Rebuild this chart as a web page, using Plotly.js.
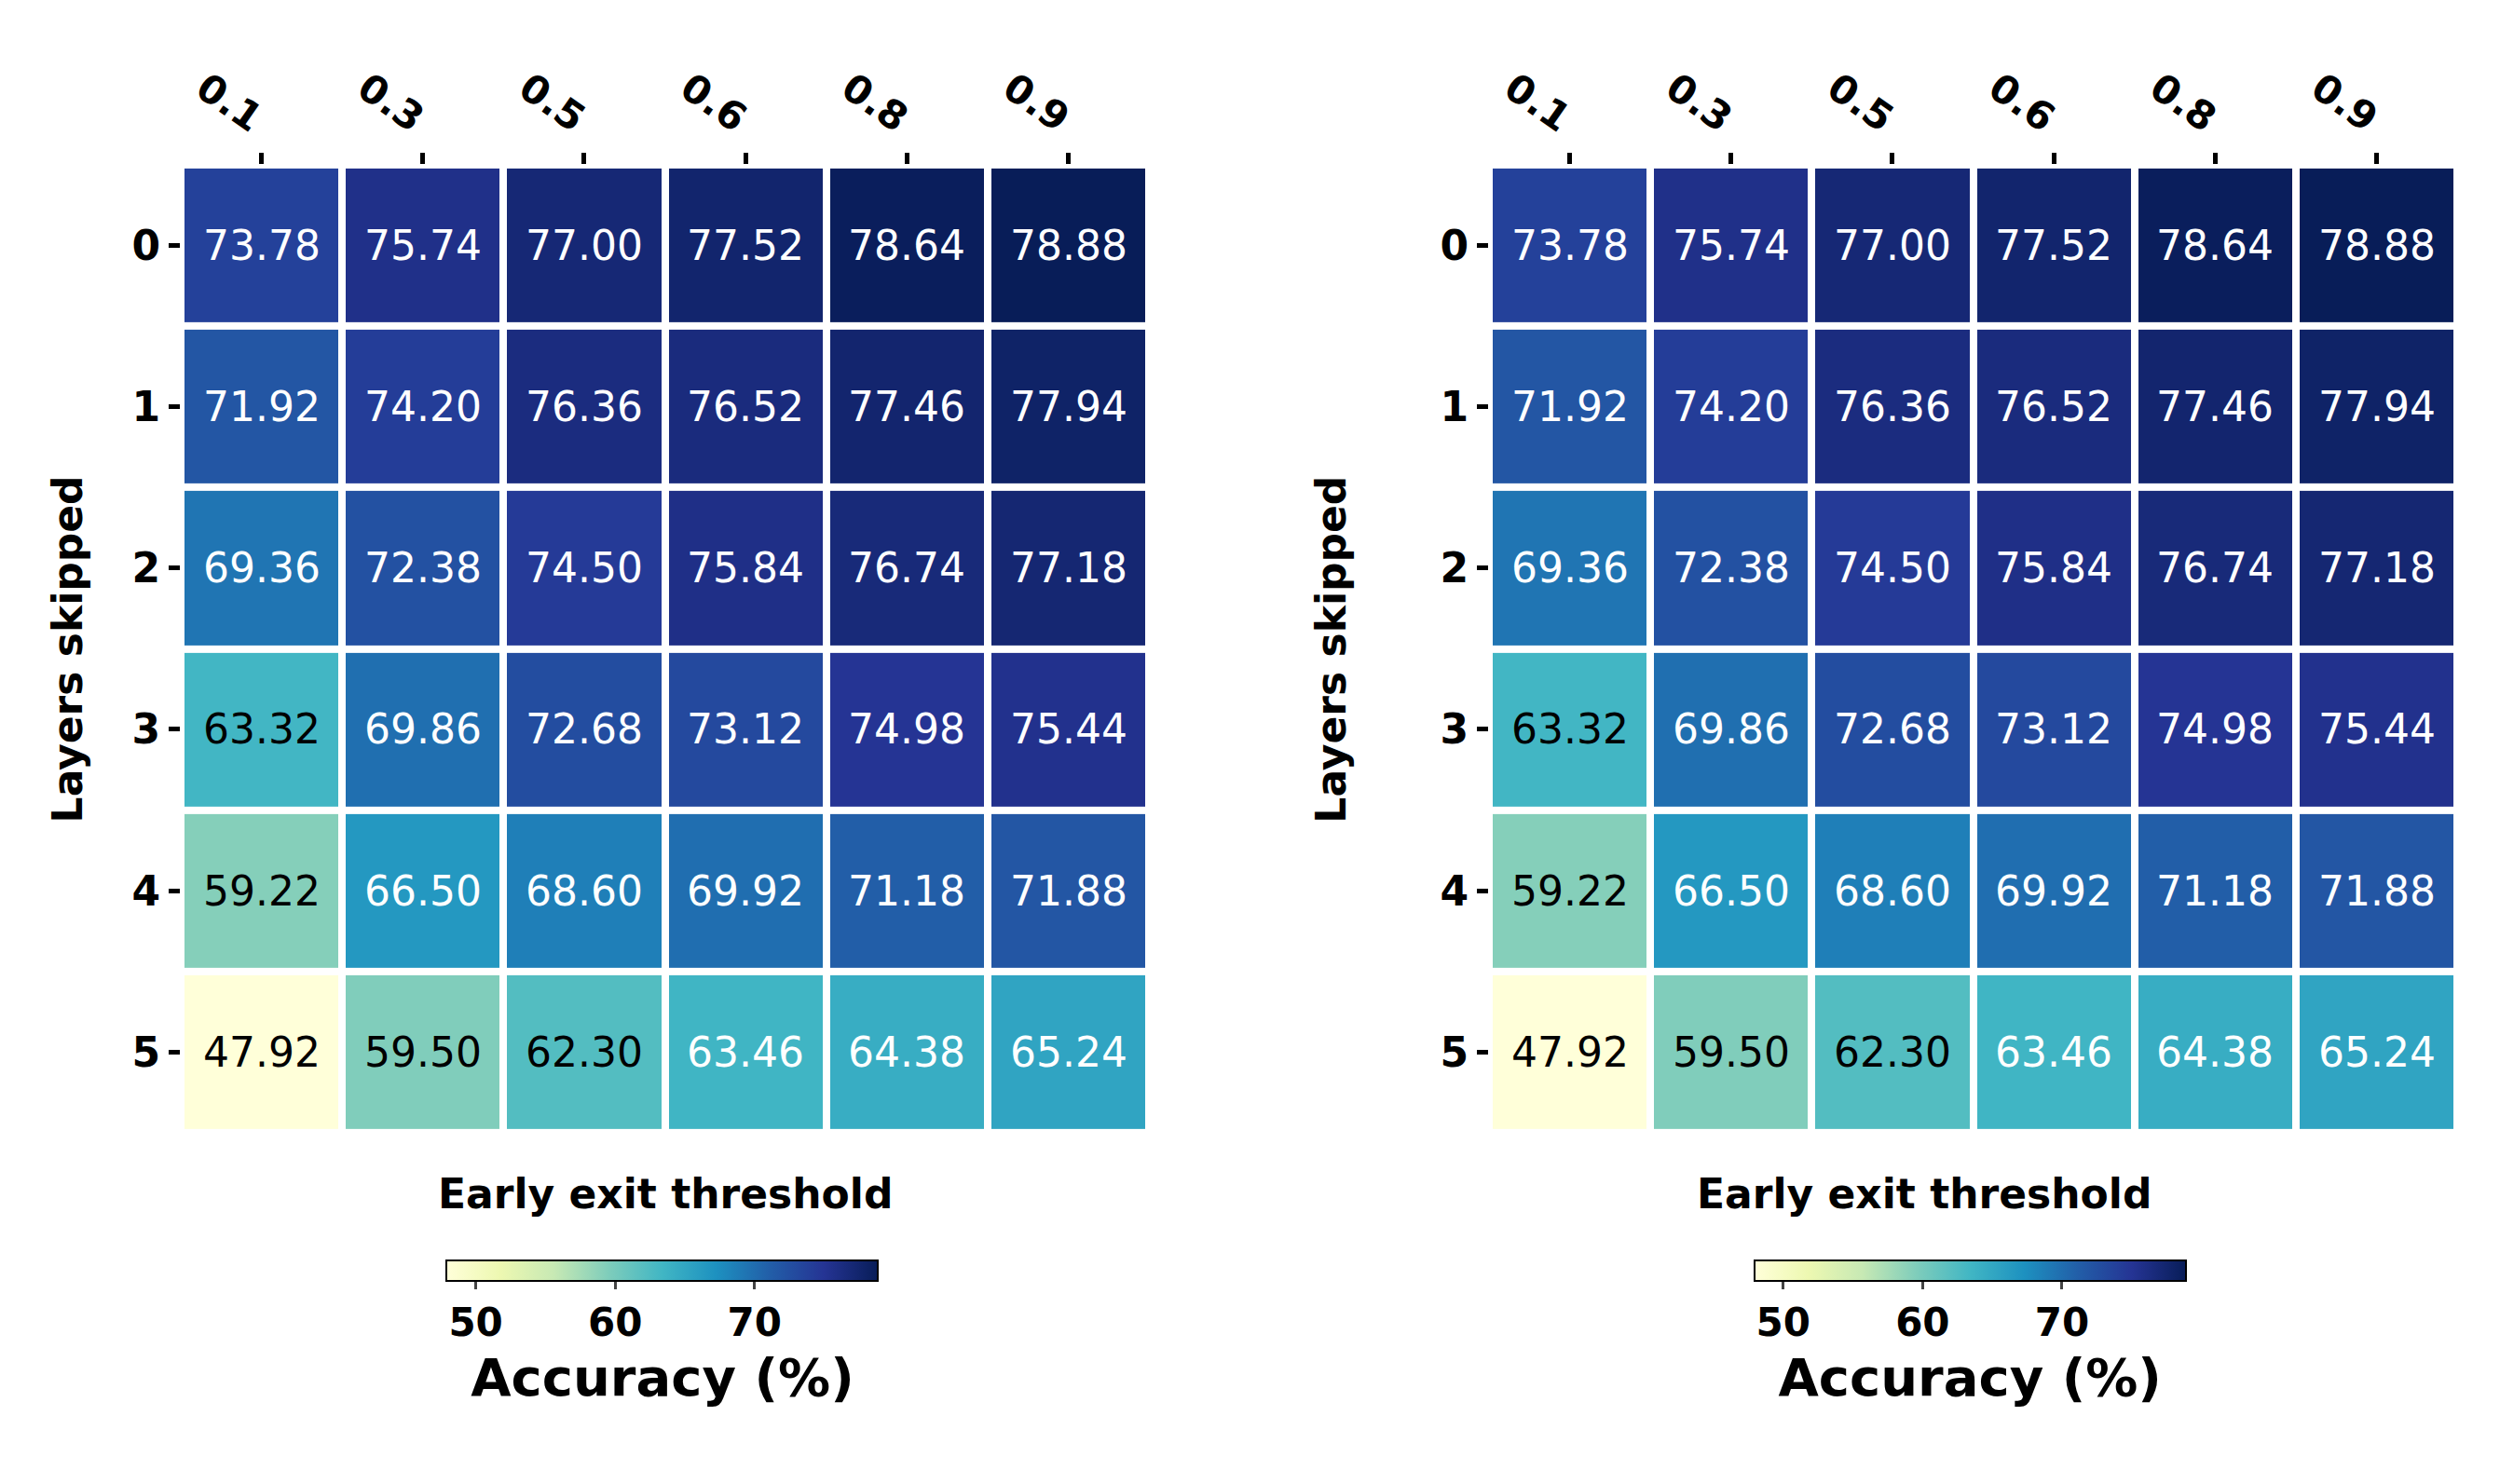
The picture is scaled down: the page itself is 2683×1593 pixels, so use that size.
<!DOCTYPE html>
<html><head><meta charset="utf-8">
<script src="https://cdn.plot.ly/plotly-3.0.1.min.js"></script>
<style>body{margin:0;background:#fff}</style></head>
<body><div id="c" style="width:2683px;height:1593px"></div>
<script>
const thresholds = ['0.1','0.3','0.5','0.6','0.8','0.9'];
const layers = ['0','1','2','3','4','5'];
const accLeft = [
 [73.78,75.74,77.00,77.52,78.64,78.88],
 [71.92,74.20,76.36,76.52,77.46,77.94],
 [69.36,72.38,74.50,75.84,76.74,77.18],
 [63.32,69.86,72.68,73.12,74.98,75.44],
 [59.22,66.50,68.60,69.92,71.18,71.88],
 [47.92,59.50,62.30,63.46,64.38,65.24]];
const accRight = [
 [73.78,75.74,77.00,77.52,78.64,78.88],
 [71.92,74.20,76.36,76.52,77.46,77.94],
 [69.36,72.38,74.50,75.84,76.74,77.18],
 [63.32,69.86,72.68,73.12,74.98,75.44],
 [59.22,66.50,68.60,69.92,71.18,71.88],
 [47.92,59.50,62.30,63.46,64.38,65.24]];
const cbTicks = [50,60,70];
const ylgnbu = [[0,'#ffffd9'],[0.125,'#edf8b1'],[0.25,'#c7e9b4'],[0.375,'#7fcdbb'],[0.5,'#41b6c4'],[0.625,'#1d91c0'],[0.75,'#225ea8'],[0.875,'#253494'],[1,'#081d58']];
const zmin=47.92, zmax=78.88, mid=(zmin+zmax)/2;
const F='DejaVu Sans';
const traces=[
 {type:'heatmap',x:thresholds,y:layers,z:accLeft,coloraxis:'coloraxis',xgap:8,ygap:8,xaxis:'x',yaxis:'y',hoverinfo:'skip'},
 {type:'heatmap',x:thresholds,y:layers,z:accRight,coloraxis:'coloraxis2',xgap:8,ygap:8,xaxis:'x2',yaxis:'y2',hoverinfo:'skip'}];
const ann=[];
[[accLeft,'x','y'],[accRight,'x2','y2']].forEach(([m,xa,ya])=>{
 m.forEach((row,i)=>row.forEach((v,j)=>ann.push({xref:xa,yref:ya,x:j,y:i,xanchor:'center',yanchor:'middle',text:v.toFixed(2),showarrow:false,font:{family:F,size:44,color:v>mid?'#ffffff':'#000000'}})));
});
[[0.266,0.027],[0.7695,0.5325]].forEach(([cx,yx])=>{
 ann.push({xref:'paper',yref:'paper',x:cx,y:1-1281/1593,xanchor:'center',yanchor:'middle',text:'<b>Early exit threshold</b>',showarrow:false,font:{family:F,size:44,color:'#000'}});
 ann.push({xref:'paper',yref:'paper',x:yx,y:0.5625,xanchor:'center',yanchor:'middle',text:'<b>Layers skipped</b>',textangle:-90,showarrow:false,font:{family:F,size:44,color:'#000'}});
});
function xax(d){return {domain:d,type:'category',side:'top',tickangle:35,ticks:'outside',ticklen:12,tickwidth:5,tickcolor:'#000',tickfont:{family:F,size:42,color:'#000',weight:'bold'},showgrid:false,zeroline:false,showline:false};}
function yax(){return {domain:[0.2367,0.889],type:'category',autorange:'reversed',ticks:'outside',ticklen:12,tickwidth:5,tickcolor:'#000',tickfont:{family:F,size:44,color:'#000',weight:'bold'},showgrid:false,zeroline:false,showline:false};}
function cax(x){return {cmin:zmin,cmax:zmax,colorscale:ylgnbu,colorbar:{orientation:'h',x:x,xanchor:'center',y:1-1343/1593,yanchor:'top',len:0.18,lenmode:'fraction',thickness:22,outlinewidth:2,outlinecolor:'#000',tickvals:cbTicks,ticks:'outside',ticklen:8,tickwidth:3,tickfont:{family:F,size:42,color:'#000',weight:'bold'},title:{text:'<b>Accuracy (%)</b>',side:'bottom',font:{family:F,size:56,color:'#000'}}}};}
const layout={width:2683,height:1593,margin:{l:0,r:0,t:0,b:0},paper_bgcolor:'#fff',plot_bgcolor:'#fff',showlegend:false,
 xaxis:Object.assign(xax([0.0723,0.4596]),{anchor:'y'}),yaxis:Object.assign(yax(),{anchor:'x'}),
 xaxis2:Object.assign(xax([0.5956,0.9829]),{anchor:'y2'}),yaxis2:Object.assign(yax(),{anchor:'x2'}),
 coloraxis:cax(0.265),coloraxis2:cax(0.788),annotations:ann};
Plotly.newPlot('c',traces,layout,{staticPlot:true});
</script></body></html>
